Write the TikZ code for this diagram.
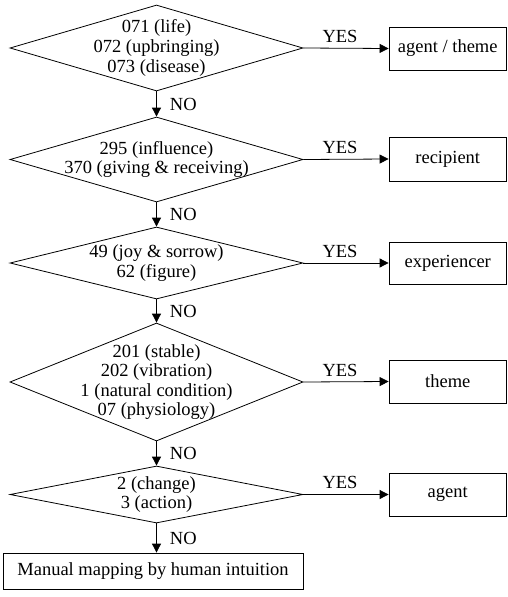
\documentclass[tikz,border=0pt]{standalone}
\usepackage{fontspec}
\setmainfont{Liberation Serif}
\usetikzlibrary{shapes.geometric,arrows.meta}
\newcommand{\flowfont}{\fontsize{18.5}{19.6}\selectfont}
\tikzset{
  dec/.style={diamond, draw, line width=0.8pt, inner sep=0pt, minimum width=293pt},
  dtext/.style={align=center, font=\flowfont, inner sep=0pt},
  outbox/.style={draw, line width=0.8pt, minimum width=117.5pt, font=\flowfont, inner sep=0pt},
  flow/.style={-{Triangle[length=9pt,width=9pt]}, line width=0.8pt},
  lab/.style={font=\flowfont, inner sep=0pt}
}
\begin{document}
\begin{tikzpicture}[x=1pt, y=-1pt]
\useasboundingbox (0,0) rectangle (507,597);

% decision diamonds
\node[dec, minimum height=86pt]  (d1) at (156.5,48)    {};
\node[dec, minimum height=85pt]  (d2) at (156.5,159.5) {};
\node[dec, minimum height=72pt]  (d3) at (156.5,263)   {};
\node[dec, minimum height=118pt] (d4) at (156.5,382)   {};
\node[dec, minimum height=57pt]  (d5) at (156.5,494.5) {};

% category codes inside the diamonds
\node[dtext] (t1) at (d1) {071 (life)\\072 (upbringing)\\073 (disease)};
\node[dtext] (t2) at (d2) {295 (influence)\\370 (giving \& receiving)};
\node[dtext] (t3) at (d3) {49 (joy \& sorrow)\\62 (figure)};
\node[dtext] (t4) at (d4) {201 (stable)\\202 (vibration)\\1 (natural condition)\\07 (physiology)};
\node[dtext] (t5) at (d5) {2 (change)\\3 (action)};

% resulting roles
\node[outbox, minimum height=43pt] (b1) at (447.75,48.5)  {agent / theme};
\node[outbox, minimum height=44pt] (b2) at (447.75,159)   {recipient};
\node[outbox, minimum height=42pt] (b3) at (447.75,263)   {experiencer};
\node[outbox, minimum height=43pt] (b4) at (447.75,381.5) {theme};
\node[outbox, minimum height=43pt] (b5) at (447.75,494.5) {agent};

% fallback
\node[draw, line width=0.8pt, font=\flowfont, inner sep=0pt,
      minimum width=300pt, minimum height=36pt] (m) at (153,571)
      {Manual mapping by human intuition};

% YES branches
\foreach \i in {1,...,5}{
  \draw[flow] (d\i.east) -- (b\i.west)
    node[lab, pos=0.43, above, yshift=5pt] {YES};
}

% NO branches
\draw[flow] (d1.south) -- (d2.north) node[lab, midway, anchor=west, xshift=13pt] {NO};
\draw[flow] (d2.south) -- (d3.north) node[lab, midway, anchor=west, xshift=13pt] {NO};
\draw[flow] (d3.south) -- (d4.north) node[lab, midway, anchor=west, xshift=13pt] {NO};
\draw[flow] (d4.south) -- (d5.north) node[lab, midway, anchor=west, xshift=13pt] {NO};
\draw[flow] (d5.south) -- (m.north -| d5.south) node[lab, midway, anchor=west, xshift=13pt] {NO};
\end{tikzpicture}
\end{document}
